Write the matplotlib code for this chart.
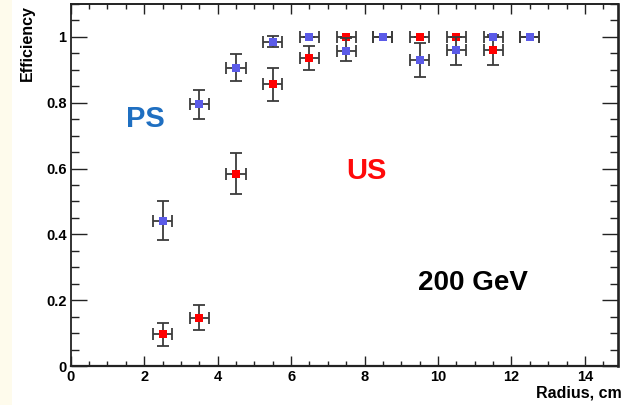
import matplotlib
matplotlib.use("Agg")
import matplotlib.pyplot as plt
from matplotlib.patches import Rectangle
from matplotlib.ticker import MultipleLocator, FixedLocator

plt.rcParams['font.family'] = ['Liberation Sans', 'DejaVu Sans']
plt.rcParams['font.weight'] = 'bold'

# Data
radius = [2.5, 3.5, 4.5, 5.5, 6.5, 7.5, 8.5, 9.5, 10.5, 11.5, 12.5]
ps_eff = [0.442, 0.795, 0.907, 0.986, 1.0, 0.957, 1.0, 0.929, 0.960, 1.0, 1.0]
ps_err_lo = [0.060, 0.045, 0.040, 0.018, 0.0, 0.030, 0.0, 0.050, 0.046, 0.0, 0.0]
ps_err_hi = [0.060, 0.045, 0.040, 0.018, 0.0, 0.040, 0.0, 0.052, 0.040, 0.0, 0.0]
us_eff = [0.097, 0.147, 0.584, 0.856, 0.937, 1.0, 1.0, 1.0, 1.0, 0.960, 1.0]
us_err_lo = [0.035, 0.038, 0.062, 0.050, 0.038, 0.0, 0.0, 0.0, 0.0, 0.045, 0.0]
us_err_hi = [0.035, 0.038, 0.064, 0.050, 0.035, 0.0, 0.0, 0.0, 0.0, 0.045, 0.0]
x_half_width = [0.26] * len(radius)

x_ticks = [0, 2, 4, 6, 8, 10, 12, 14]
x_labels = ["0", "2", "4", "6", "8", "10", "12", "14"]
y_ticks = [0, 0.2, 0.4, 0.6, 0.8, 1.0]
y_labels = ["0", "0.2", "0.4", "0.6", "0.8", "1"]

W, H = 626, 405
fig = plt.figure(figsize=(W / 100, H / 100), dpi=100)
fig.patch.set_facecolor('white')
fig.patches.append(Rectangle((0, 0), 12 / W, 1, transform=fig.transFigure,
                             facecolor='#fefbec', edgecolor='none', zorder=0))

ax = fig.add_axes([70.7 / W, (H - 366) / H, (618 - 70.7) / W, (366 - 4) / H])
ax.set_xlim(0, 14.9)
ax.set_ylim(0, 1.1)

err_color = '#3c3c3c'
red = '#ff0000'
blue = '#5b5be8'

# US (red)
ax.errorbar(radius, us_eff, xerr=x_half_width, yerr=[us_err_lo, us_err_hi],
            fmt='none', ecolor=err_color, elinewidth=1.3, capsize=4,
            capthick=1.3, zorder=2)
ax.plot(radius, us_eff, linestyle='none', marker='s', markersize=5.8,
        color=red, markeredgewidth=0, zorder=3)
# PS (blue)
ax.errorbar(radius, ps_eff, xerr=x_half_width, yerr=[ps_err_lo, ps_err_hi],
            fmt='none', ecolor=err_color, elinewidth=1.3, capsize=4,
            capthick=1.3, zorder=4)
ax.plot(radius, ps_eff, linestyle='none', marker='s', markersize=5.8,
        color=blue, markeredgewidth=0, zorder=5)

# Ticks
ax.xaxis.set_major_locator(FixedLocator(x_ticks))
ax.set_xticklabels(x_labels)
ax.xaxis.set_minor_locator(MultipleLocator(0.5))
ax.yaxis.set_major_locator(FixedLocator(y_ticks))
ax.set_yticklabels(y_labels)
ax.yaxis.set_minor_locator(MultipleLocator(0.05))

ax.tick_params(axis='x', which='major', direction='in', length=7.2, width=1.0,
               top=True, bottom=True, labelsize=10.5, pad=3, colors='#222222',
               labelcolor='black')
ax.tick_params(axis='x', which='minor', direction='in', length=3.6, width=1.0,
               top=True, bottom=True, colors='#222222')
ax.tick_params(axis='y', which='major', direction='in', length=11.5, width=1.0,
               left=True, right=True, labelsize=10.5, pad=3, colors='#222222',
               labelcolor='black')
ax.tick_params(axis='y', which='minor', direction='in', length=5.8, width=1.0,
               left=True, right=True, colors='#222222')
for lab in ax.get_xticklabels() + ax.get_yticklabels():
    lab.set_fontweight('bold')

for side, lw in [('left', 1.3), ('bottom', 1.6), ('top', 1.4), ('right', 1.9)]:
    ax.spines[side].set_linewidth(lw)
    ax.spines[side].set_color('#222222')

# Annotations
ax.text(2.02, 0.725, "PS", color='#1f6fc1', fontsize=21, fontweight='bold',
        ha='center', va='baseline')
ax.text(8.05, 0.567, "US", color='#ff0a0a', fontsize=21, fontweight='bold',
        ha='center', va='baseline')
ax.text(10.96, 0.2315, "200 GeV", color='black', fontsize=20, fontweight='bold',
        ha='center', va='baseline')

fig.text(622 / W, 1 - 393 / H, "Radius, cm", ha='right', va='center',
         fontsize=11.5, fontweight='bold')
fig.text(27 / W, 1 - 5 / H, "Efficiency", ha='center', va='top',
         rotation=90, fontsize=11.5, fontweight='bold')

fig.savefig("out.png", dpi=100)
